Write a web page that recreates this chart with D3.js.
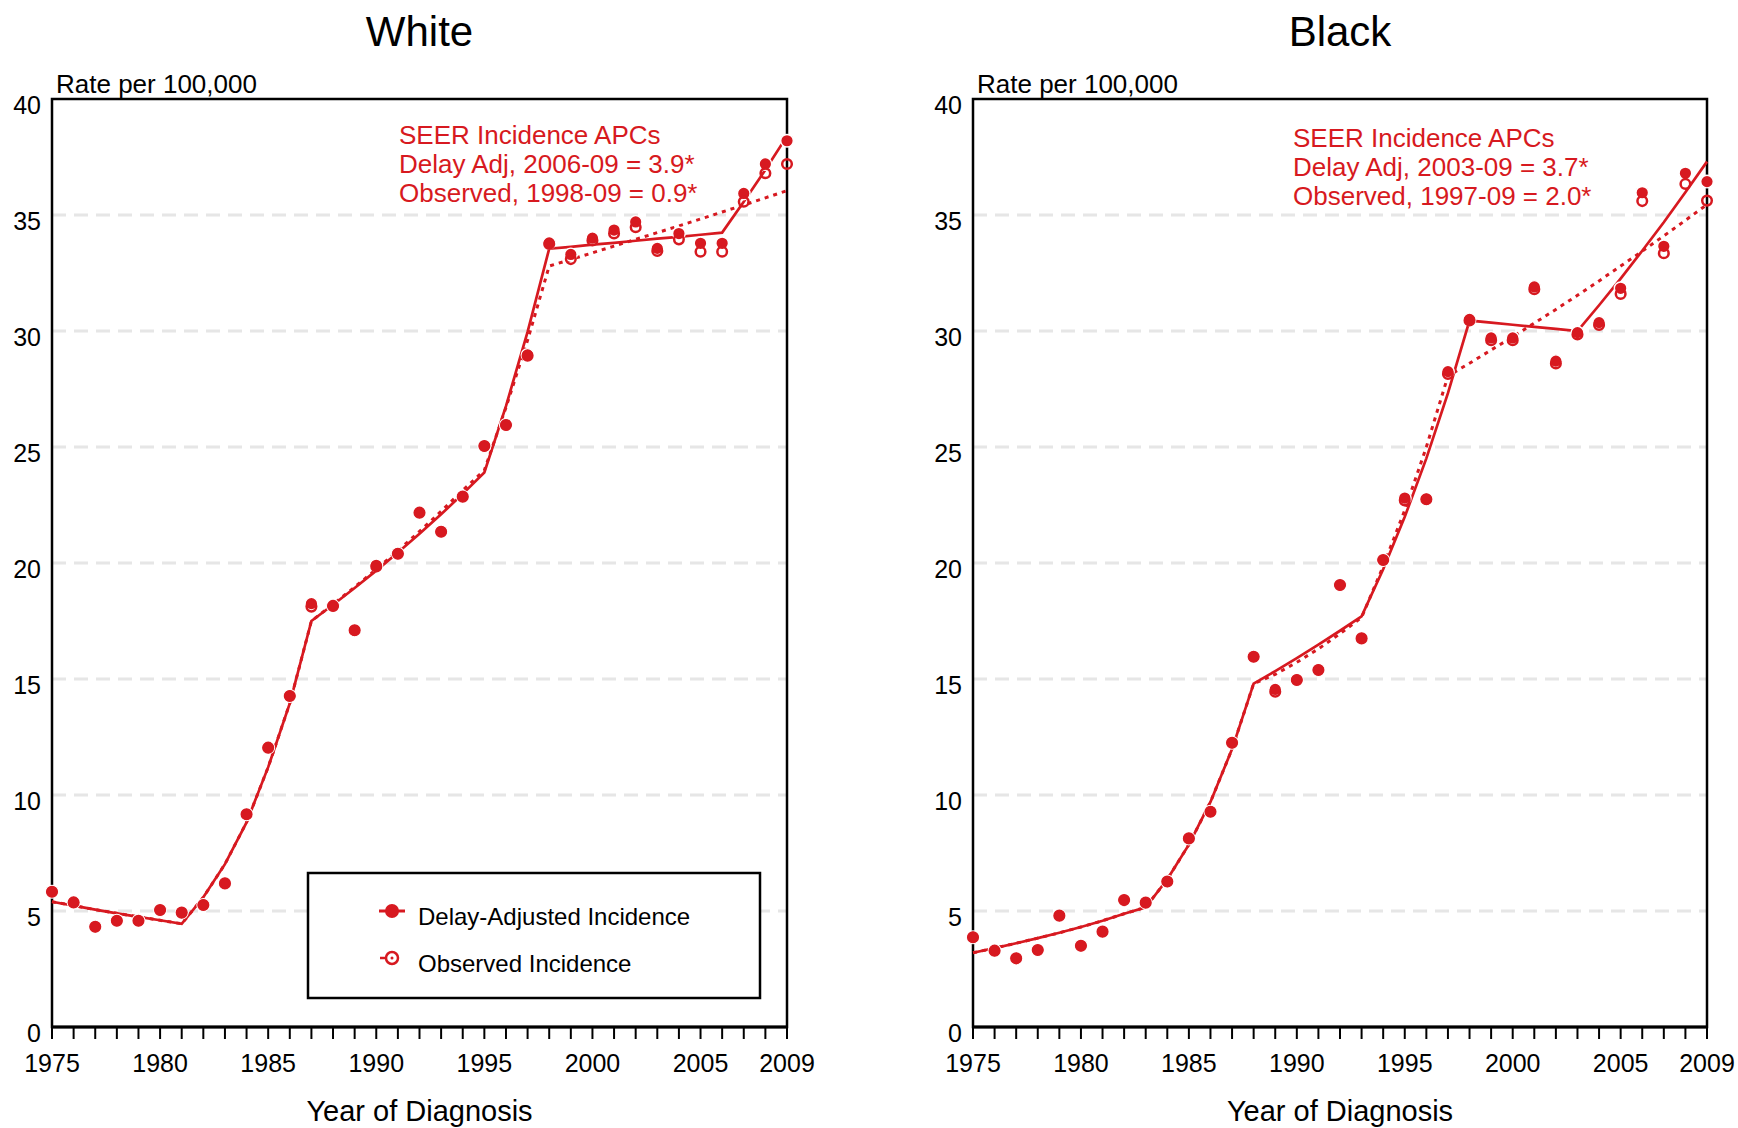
<!DOCTYPE html>
<html>
<head>
<script src="https://cdn.jsdelivr.net/npm/d3@7"></script>
<style>
    body { margin: 0; background: #ffffff; }
    svg text { font-family: "Liberation Sans", Arial, sans-serif; }
</style>
</head>
<body>
<svg id="chart" width="1738" height="1128"></svg>
<script>
    const years = d3.range(1975, 2010);
    const tickYears = [1975, 1980, 1985, 1990, 1995, 2000, 2005, 2009];
    const rateTicks = [0, 5, 10, 15, 20, 25, 30, 35, 40];
    const gridRates = [5, 10, 15, 20, 25, 30, 35];

    // White, 1975-2009
    const whiteDelay = [5.83, 5.37, 4.32, 4.58, 4.58, 5.04, 4.93, 5.26, 6.19, 9.17,
        12.04, 14.27, 18.25, 18.15, 17.1, 19.9, 20.4, 22.17, 21.35, 22.86,
        25.04, 25.95, 28.97, 33.8, 33.3, 34.0, 34.35, 34.7, 33.56, 34.2,
        33.78, 33.78, 35.93, 37.2, 38.2];
    const whiteObs = [5.83, 5.37, 4.32, 4.58, 4.58, 5.04, 4.93, 5.26, 6.19, 9.17,
        12.04, 14.27, 18.12, 18.15, 17.1, 19.85, 20.4, 22.17, 21.35, 22.86,
        25.04, 25.95, 28.93, 33.75, 33.1, 33.9, 34.2, 34.47, 33.45, 33.95,
        33.42, 33.42, 35.57, 36.8, 37.2];
    const whiteDelayFit = [5.4, 5.23, 5.06, 4.9, 4.75, 4.6, 4.45, 5.59, 7.02, 8.82,
        11.2, 13.95, 17.5, 18.2, 18.92, 19.67, 20.45, 21.26, 22.1, 22.98,
        23.9, 26.76, 29.96, 33.55, 33.63, 33.72, 33.8, 33.89, 33.98, 34.06,
        34.15, 34.24, 35.57, 36.95, 38.4];
    const whiteObsFit = [5.4, 5.23, 5.06, 4.9, 4.75, 4.6, 4.45, 5.59, 7.02, 8.82,
        11.2, 13.95, 17.5, 18.22, 18.96, 19.73, 20.53, 21.36, 22.23, 23.13,
        24.0, 26.7, 29.6, 32.8, 33.08, 33.37, 33.66, 33.95, 34.24, 34.53,
        34.83, 35.13, 35.43, 35.74, 36.05];
    const whiteApc = ["SEER Incidence APCs", "Delay Adj, 2006-09 = 3.9*", "Observed, 1998-09 = 0.9*"];

    // Black, 1975-2009
    const blackDelay = [3.87, 3.29, 2.96, 3.32, 4.8, 3.5, 4.11, 5.47, 5.36, 6.27,
        8.13, 9.28, 12.25, 15.96, 14.55, 14.96, 15.39, 19.05, 16.75, 20.13,
        22.8, 22.75, 28.25, 30.5, 29.7, 29.7, 31.9, 28.7, 29.93, 30.36,
        31.84, 35.96, 33.65, 36.8, 36.44];
    const blackObs = [3.87, 3.29, 2.96, 3.32, 4.8, 3.5, 4.11, 5.47, 5.36, 6.27,
        8.13, 9.28, 12.25, 15.96, 14.45, 14.96, 15.39, 19.05, 16.75, 20.13,
        22.7, 22.75, 28.15, 30.45, 29.6, 29.6, 31.8, 28.6, 29.85, 30.26,
        31.6, 35.6, 33.35, 36.34, 35.62];
    const blackDelayFit = [3.2, 3.4, 3.61, 3.83, 4.06, 4.31, 4.58, 4.88, 5.16, 6.37,
        7.86, 9.7, 11.98, 14.8, 15.34, 15.9, 16.48, 17.08, 17.7, 19.73,
        21.99, 24.51, 27.32, 30.45, 30.36, 30.27, 30.18, 30.09, 30.0, 31.11,
        32.26, 33.46, 34.69, 35.98, 37.3];
    const blackObsFit = [3.2, 3.4, 3.61, 3.83, 4.06, 4.31, 4.58, 4.88, 5.16, 6.37,
        7.86, 9.7, 11.98, 14.8, 15.2, 15.72, 16.3, 16.95, 17.65, 19.86,
        22.28, 25.0, 28.06, 28.61, 29.18, 29.75, 30.34, 30.93, 31.54, 32.16,
        32.8, 33.44, 34.1, 34.77, 35.45];
    const blackApc = ["SEER Incidence APCs", "Delay Adj, 2003-09 = 3.7*", "Observed, 1997-09 = 2.0*"];

    const legendLabels = ["Delay-Adjusted Incidence", "Observed Incidence"];

    const red = "#d71920";
    const plotTop = 99, plotBottom = 1027;

    const panels = [
        { title: "White", left: 52, right: 787, delay: whiteDelay, obs: whiteObs,
          delayFit: whiteDelayFit, obsFit: whiteObsFit, apc: whiteApc, apcX: 399, apcY: 144, legend: true },
        { title: "Black", left: 973, right: 1707, delay: blackDelay, obs: blackObs,
          delayFit: blackDelayFit, obsFit: blackObsFit, apc: blackApc, apcX: 1293, apcY: 147, legend: false }
    ];

    const svg = d3.select("#chart");
    const y = d3.scaleLinear().domain([0, 40]).range([plotBottom, plotTop]);

    panels.forEach(p => drawPanel(p));

    function drawPanel(p) {
        const x = d3.scaleLinear().domain([1975, 2009]).range([p.left, p.right]);
        const g = svg.append("g");
        const mid = (p.left + p.right) / 2;

        g.append("text").attr("x", mid).attr("y", 46)
            .attr("text-anchor", "middle").attr("font-size", 42).text(p.title);
        g.append("text").attr("x", p.left + 4).attr("y", 93)
            .attr("font-size", 26).text("Rate per 100,000");

        // grid
        g.selectAll(".grid").data(gridRates).join("line")
            .attr("x1", p.left).attr("x2", p.right)
            .attr("y1", d => y(d)).attr("y2", d => y(d))
            .attr("stroke", "#e6e6e6").attr("stroke-width", 3)
            .attr("stroke-dasharray", "14,8");

        // y labels
        g.selectAll(".ylab").data(rateTicks).join("text")
            .attr("x", p.left - 11).attr("y", d => y(d) + 6)
            .attr("text-anchor", "end").attr("dominant-baseline", "central")
            .attr("font-size", 25).text(d => d);

        // x ticks + labels
        g.selectAll(".xtick").data(years).join("line")
            .attr("x1", d => x(d)).attr("x2", d => x(d))
            .attr("y1", plotBottom).attr("y2", plotBottom + 12)
            .attr("stroke", "#000").attr("stroke-width", 2);
        g.selectAll(".xlab").data(tickYears).join("text")
            .attr("x", d => x(d)).attr("y", 1063)
            .attr("text-anchor", "middle").attr("dominant-baseline", "central")
            .attr("font-size", 25).text(d => d);
        g.append("text").attr("x", mid).attr("y", 1121)
            .attr("text-anchor", "middle").attr("font-size", 29).text("Year of Diagnosis");

        // frame
        g.append("rect").attr("x", p.left).attr("y", plotTop)
            .attr("width", p.right - p.left).attr("height", plotBottom - plotTop)
            .attr("fill", "none").attr("stroke", "#000").attr("stroke-width", 2.5);
        g.append("line").attr("x1", p.left - 1).attr("x2", p.right + 1)
            .attr("y1", plotBottom).attr("y2", plotBottom)
            .attr("stroke", "#000").attr("stroke-width", 3);

        // fitted lines
        const line = d3.line().x(d => x(d[0])).y(d => y(d[1]));
        g.append("path").datum(years.map((yr, i) => [yr, p.obsFit[i]]))
            .attr("d", line).attr("fill", "none").attr("stroke", red)
            .attr("stroke-width", 3).attr("stroke-dasharray", "4,5");
        g.append("path").datum(years.map((yr, i) => [yr, p.delayFit[i]]))
            .attr("d", line).attr("fill", "none").attr("stroke", red)
            .attr("stroke-width", 2.7);

        // points
        g.selectAll(".dadj").data(years).join("circle")
            .attr("cx", d => x(d)).attr("cy", (d, i) => y(p.delay[i]))
            .attr("r", 6.3).attr("fill", red)
            .attr("stroke", "#fff").attr("stroke-width", 1.4);
        g.selectAll(".obs").data(years).join("circle")
            .attr("cx", d => x(d)).attr("cy", (d, i) => y(p.obs[i]))
            .attr("r", 4.8).attr("fill", "none")
            .attr("stroke", red).attr("stroke-width", 2.5);

        // APC note
        g.selectAll(".apc").data(p.apc).join("text")
            .attr("x", p.apcX).attr("y", (d, i) => p.apcY + i * 29)
            .attr("fill", red).attr("font-size", 26).text(d => d);

        if (p.legend) drawLegend(g);
    }

    function drawLegend(g) {
        g.append("rect").attr("x", 308).attr("y", 873).attr("width", 452).attr("height", 125)
            .attr("fill", "#fff").attr("stroke", "#000").attr("stroke-width", 2.5);
        const lx = 392, ly = [911, 958];
        g.append("line").attr("x1", lx - 13).attr("x2", lx + 13)
            .attr("y1", ly[0]).attr("y2", ly[0]).attr("stroke", red).attr("stroke-width", 3);
        g.append("circle").attr("cx", lx).attr("cy", ly[0]).attr("r", 7).attr("fill", red);
        g.append("line").attr("x1", lx - 12).attr("x2", lx - 6)
            .attr("y1", ly[1]).attr("y2", ly[1]).attr("stroke", red).attr("stroke-width", 2.5);
        g.append("circle").attr("cx", lx).attr("cy", ly[1]).attr("r", 6)
            .attr("fill", "none").attr("stroke", red).attr("stroke-width", 2.5);
        g.append("circle").attr("cx", lx).attr("cy", ly[1]).attr("r", 1.5).attr("fill", red);
        g.selectAll(".leg").data(legendLabels).join("text")
            .attr("x", 418).attr("y", (d, i) => ly[i] + 14)
            .attr("font-size", 24).text(d => d);
    }
</script>
</body>
</html>
